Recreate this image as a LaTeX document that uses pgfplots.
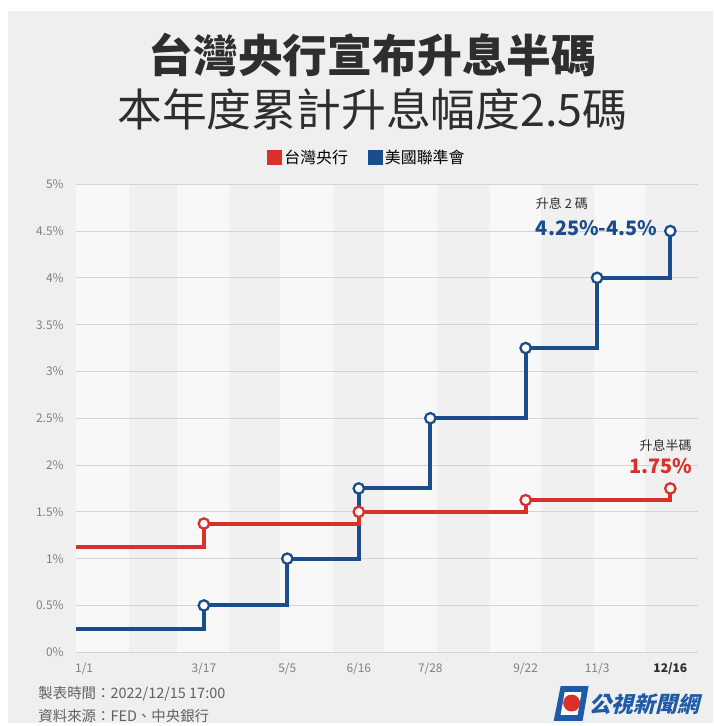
\documentclass[border=0pt]{standalone}
\usepackage{fontspec}
\setmainfont{Noto Sans CJK TC}
\newfontfamily\logofont[FakeSlant=0.25]{Noto Sans CJK TC}
\usepackage{pgfplots}
\pgfplotsset{compat=1.18}
\definecolor{twred}{HTML}{D9302A}
\definecolor{usblue}{HTML}{1B4C8C}
\definecolor{logoblue}{HTML}{1F5AA8}
\definecolor{bgg}{HTML}{EFEFEF}
\definecolor{stripeA}{HTML}{F8F8F8}
\definecolor{stripeB}{HTML}{F0F0F0}
\definecolor{gridc}{HTML}{D4D4D4}
\definecolor{tickc}{HTML}{808080}
\definecolor{titlec}{HTML}{2E2E2E}

\begin{document}
\begin{tikzpicture}[x=1pt,y=1pt]
\fill[white] (0,0) rectangle (716,726);
\fill[bgg] (8,0) rectangle (716,715);
% month stripes (decorative background): px = 76.5 + day/365*624
\foreach \a/\b/\c in {0/31/stripeA,31/59/stripeB,59/90/stripeA,90/120/stripeB,120/151/stripeA,151/181/stripeB,181/212/stripeA,212/243/stripeB,243/273/stripeA,273/304/stripeB,304/334/stripeA,334/365/stripeB}{
  \fill[\c] ({76.5+\a/365*624},71) rectangle ({76.5+\b/365*624},541);
}
% titles
\node[font=\fontsize{45}{45}\selectfont\bfseries, text=titlec] at (374,726-55) {台灣央行宣布升息半碼};
\node[font=\fontsize{45}{45}\selectfont, text=titlec] at (374,726-110) {本年度累計升息幅度2.5碼};

\begin{axis}[
  at={(76.5pt,71pt)}, anchor=south west,
  scale only axis, width=624pt, height=470pt,
  clip=false,
  xmin=0, xmax=365, ymin=0, ymax=5,
  axis line style={draw=none},
  major tick length=0pt,
  ymajorgrids, grid style={gridc, line width=0.8pt},
  ytick={0,0.5,...,5},
  yticklabel={\pgfmathprintnumber{\tick}\%},
  yticklabel style={font=\fontsize{12}{12}\selectfont, text=tickc, xshift=-9pt},
  xtick={0,75,124,166,208,264,306,349},
  xticklabels={\hspace*{16pt}1/1,3/17,5/5,6/16,7/28,9/22,11/3,\textbf{\color{titlec}12/16}},
  xticklabel style={font=\fontsize{12}{12}\selectfont, text=tickc, yshift=-7pt},
  /pgf/number format/assume math mode=true,
  legend columns=2,
  reverse legend,
  legend style={at={(0.468,1.057)}, anchor=center, draw=none, fill=none,
    font=\fontsize{16}{16}\selectfont,
    /tikz/every even column/.append style={column sep=18pt}},
  legend image code/.code={\fill[draw=none,#1] (0pt,-7.5pt) rectangle (15pt,7.5pt);},
]
\addplot[const plot, color=usblue, line width=4pt, mark=*, mark size=5.2pt,
  mark indices={2,3,4,5,6,7,8},
  mark options={fill=white, draw=usblue, line width=2.3pt}]
  coordinates {(0,0.25) (75,0.5) (124,1.0) (166,1.75) (208,2.5) (264,3.25) (306,4.0) (349,4.5)};
\addlegendentry{美國聯準會}
\addplot[const plot, color=twred, line width=4pt, mark=*, mark size=5.2pt,
  mark indices={2,3,4,5},
  mark options={fill=white, draw=twred, line width=2.3pt}]
  coordinates {(0,1.125) (75,1.375) (166,1.5) (264,1.625) (349,1.75)};
\addlegendentry{台灣央行}

\node[anchor=west, font=\fontsize{13}{13}\selectfont, text=titlec] at (axis cs:268,4.79) {升息 2 碼};
\node[anchor=west, font=\fontsize{20}{20}\selectfont\bfseries, text=usblue] at (axis cs:268,4.53) {4.25\%-4.5\%};
\node[anchor=east, font=\fontsize{13}{13}\selectfont, text=titlec] at (axis cs:363.5,2.21) {升息半碼};
\node[anchor=east, font=\fontsize{20}{20}\selectfont\bfseries, text=twred] at (axis cs:364,1.99) {1.75\%};
\end{axis}

% footer
\node[anchor=west, font=\fontsize{14.5}{14.5}\selectfont, text=black!62] at (35,726-697) {製表時間：2022/12/15 17:00};
\node[anchor=west, font=\fontsize{14.5}{14.5}\selectfont, text=black!62] at (35,726-719) {資料來源：FED、中央銀行};
% logo
\fill[logoblue] (556,726-724) -- (563,726-689) -- (591,726-689) -- (585,726-724) -- cycle;
\fill[white] (563,726-718) -- (567,726-695) -- (584,726-695) -- (580,726-718) -- cycle;
\fill[twred] (574,726-706) circle (8.5);
\node[anchor=west, font=\fontsize{22}{22}\selectfont\logofont\bfseries, text=logoblue, inner sep=0pt] at (592,726-707) {公視新聞網};
\end{tikzpicture}
\end{document}
